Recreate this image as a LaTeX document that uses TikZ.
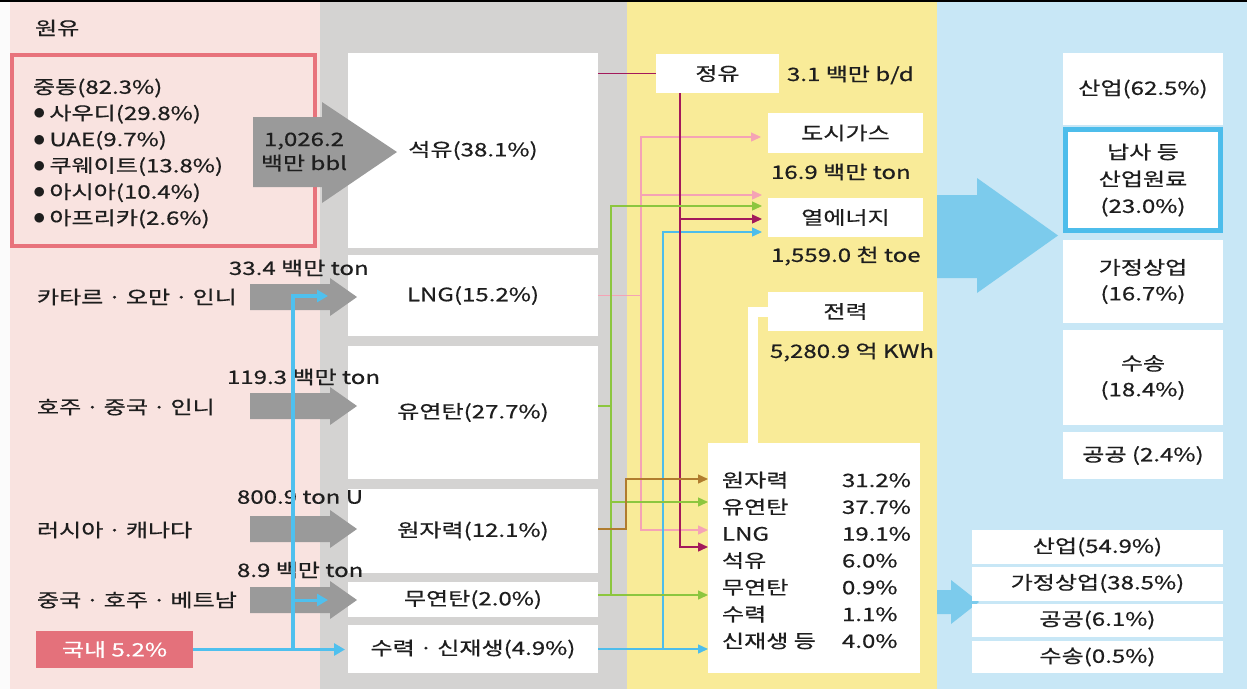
\documentclass[tikz,border=0pt]{standalone}
\usepackage{fontspec}
\setmainfont{Noto Sans CJK KR}[FakeStretch=1.3,FakeBold=0.6]
\usetikzlibrary{arrows.meta}
\definecolor{pinkbg}{HTML}{F9E3E0}
\definecolor{graybg}{HTML}{D4D3D2}
\definecolor{yelbg}{HTML}{F9EB98}
\definecolor{bluebg}{HTML}{C8E7F6}
\definecolor{redC}{HTML}{E8737C}
\definecolor{domC}{HTML}{E4717B}
\definecolor{arrG}{HTML}{9A9A9A}
\definecolor{lineB}{HTML}{4FC0EE}
\definecolor{bigA}{HTML}{7CCBEC}
\definecolor{magC}{HTML}{A3195B}
\definecolor{pnkC}{HTML}{F5A3B5}
\definecolor{grnC}{HTML}{8CC63F}
\definecolor{brnC}{HTML}{B07C2E}
\definecolor{cynC}{HTML}{4DBDEB}
\definecolor{txt}{HTML}{1E1E1E}
\newcommand\bul{{\fontsize{30}{30}\selectfont$\bullet$}\hspace{4pt}}
\newcommand\md{\hspace{4.5pt}·\hspace{4.5pt}}
\newcommand\colA[1]{\makebox[120pt][l]{#1}}
\tikzset{tri/.tip={Triangle[length=10pt,width=9pt]},
  btri/.tip={Triangle[length=11pt,width=12pt]}}
\begin{document}
\begin{tikzpicture}[x=1pt,y=-1pt,
  every node/.style={text=txt, inner sep=0pt, outer sep=0pt},
  fnt/.style={font=\fontsize{18.5}{24}\selectfont},
  wbox/.style={fnt, fill=white, minimum width=250, align=center},
  ybox/.style={fnt, fill=white, minimum width=155, minimum height=39},
  rbox/.style={fill=white, minimum width=160, align=center, font=\fontsize{18.5}{26}\selectfont},
  bbox/.style={fnt, fill=white, minimum width=251},
  lbl/.style={fnt, anchor=west},
  conn/.style={line width=1.4pt},
  mag/.style={conn, draw=magC},
  pnk/.style={conn, draw=pnkC},
  grn/.style={conn, draw=grnC},
  brn/.style={conn, draw=brnC},
  cyn/.style={conn, draw=cynC},
  bthick/.style={draw=lineB, line width=3.6pt}
]
\useasboundingbox (0,0) rectangle (1247,689);
% backgrounds
\fill[white!97!gray] (0,0) rectangle (1247,689);
\fill[pinkbg] (10,2) rectangle (320,689);
\fill[graybg] (320,2) rectangle (627,689);
\fill[yelbg] (627,2) rectangle (937,689);
\fill[bluebg] (937,2) rectangle (1247,689);
\fill[black] (0,0) rectangle (1247,2);

% ---------- crude oil column ----------
\node[lbl] (hdr) at (35,28) {원유};
\node[draw=redC, line width=4pt, minimum width=303, minimum height=191, anchor=north west] (mebox) at (12,55) {};
\node[anchor=west, align=left, font=\fontsize{18.5}{26.2}\selectfont] (me) at (33,153.5)
  {중동(82.3\%)\\\bul 사우디(29.8\%)\\\bul UAE(9.7\%)\\\bul 쿠웨이트(13.8\%)\\\bul 아시아(10.4\%)\\\bul 아프리카(2.6\%)};

% ---------- primary energy boxes ----------
\node[wbox, minimum height=195] (oil) at (473,150.5) {석유(38.1\%)};
\node[wbox, minimum height=81] (lng) at (473,295.5) {LNG(15.2\%)};
\node[wbox, minimum height=133] (coal) at (473,412.5) {유연탄(27.7\%)};
\node[wbox, minimum height=84] (nuc) at (473,531) {원자력(12.1\%)};
\node[wbox, minimum height=35] (anth) at (473,599.5) {무연탄(2.0\%)};
\node[wbox, minimum height=48] (hydro) at (473,649) {수력\md 신재생(4.9\%)};

% gray import arrows
\fill[arrG] (253,117) -- (322,117) -- (322,102) -- (397,152) -- (322,203) -- (322,187) -- (253,187) -- cycle;
\node[fnt, align=center] (crude) at (304,152) {1,026.2\\백만 bbl};
\foreach \yy in {297,406,529,600}
  \fill[arrG] (250,\yy-13) -- (330,\yy-13) -- (330,\yy-19) -- (357,\yy) -- (330,\yy+19) -- (330,\yy+13) -- (250,\yy+13) -- cycle;

\node[lbl] (qa) at (37,297) {카타르\md 오만\md 인니};
\node[lbl] (au) at (37,407) {호주\md 중국\md 인니};
\node[lbl] (ru) at (37,530) {러시아\md 캐나다};
\node[lbl] (cn) at (37,600) {중국\md 호주\md 베트남};
\node[lbl] (qav) at (229,268) {33.4 백만 ton};
\node[lbl] (auv) at (227,377) {119.3 백만 ton};
\node[lbl] (ruv) at (237,497) {800.9 ton U};
\node[lbl] (cnv) at (237,570) {8.9 백만 ton};

% domestic
\node[fnt, fill=domC, text=white, minimum width=157, minimum height=37] (dom) at (114.5,649.5) {국내 5.2\%};
\coordinate (d1) at (293,649.5);
\coordinate (d2) at (293,296);
\coordinate (d3) at (293,600);
\draw[bthick, -btri, shorten >=3pt] (dom.east) -- (hydro.west |- dom.east);
\draw[bthick, -btri] (d1) -- (d2) -- (328,296);
\draw[draw=lineB, line width=3pt, -btri] (d3) -- (328,600);

% ---------- conversion column ----------
\node[ybox, minimum width=123] (refin) at (717.5,73.5) {정유};
\node[lbl] (refv) at (787,75) {3.1 백만 b/d};
\node[ybox, minimum height=40] (gas) at (845.5,133) {도시가스};
\node[lbl] (gasv) at (771,172) {16.9 백만 ton};
\node[ybox] (heat) at (845.5,217.5) {열에너지};
\node[lbl] (heatv) at (771,256) {1,559.0 천 toe};
\node[ybox] (power) at (845.5,311.5) {전력};
\node[lbl] (powv) at (770,352) {5,280.9 억 KWh};
\node[fill=white, minimum width=212, minimum height=230] (mix) at (814,558) {};
\node[anchor=west, align=left, font=\fontsize{18.5}{26.8}\selectfont] (mixt) at (722,560.5)
  {\colA{원자력}31.2\%\\\colA{유연탄}37.7\%\\\colA{LNG}19.1\%\\\colA{석유}6.0\%\\\colA{무연탄}0.9\%\\\colA{수력}1.1\%\\\colA{신재생 등}4.0\%};
\coordinate (wc) at (752.5,311.5);
\draw[white, line width=10pt] (power.west) -- (wc) -- (wc |- mix.north);

% connectors
\coordinate (p1) at (641,137);
\coordinate (p2) at (641,195);
\coordinate (p3) at (641,530);
\draw[pnk] (lng.east) -- (lng.east -| p1);
\draw[pnk, tri-tri, shorten <=7pt] (gas.west |- p1) -- (p1) -- (p3) -- (mix.west |- p3);
\draw[pnk, -tri, shorten >=6pt] (p2) -- (heat.west |- p2);

\coordinate (c1) at (663,649);
\coordinate (c2) at (663,232);
\draw[cyn, -tri] (hydro.east) -- (mix.west |- hydro.east);
\draw[cyn, -tri, shorten >=6pt] (c1) -- (c2) -- (heat.west |- c2);

\coordinate (m1) at (680,219);
\coordinate (m2) at (680,547);
\draw[mag] (oil.east |- refin.west) -- (refin.west);
\draw[mag, -tri] (refin.south -| m2) -- (m2) -- (mix.west |- m2);
\draw[mag, -tri, shorten >=6pt] (m1) -- (heat.west |- m1);

\coordinate (g0) at (611,406);
\coordinate (g1) at (611,206);
\coordinate (g2) at (611,502);
\coordinate (g3) at (611,595);
\draw[grn] (coal.east |- g0) -- (g0);
\draw[grn, -tri, shorten >=6pt] (g3) -- (g1) -- (heat.west |- g1);
\draw[grn, -tri] (g2) -- (mix.west |- g2);
\draw[grn, -tri] (anth.east |- g3) -- (mix.west |- g3);

\coordinate (b1) at (626,529);
\coordinate (b2) at (626,479);
\draw[brn, -tri] (nuc.east |- b1) -- (b1) -- (b2) -- (mix.west |- b2);

% ---------- final consumption column ----------
\fill[bigA] (937,195) -- (977,195) -- (977,178) -- (1058,235.5) -- (977,293) -- (977,278) -- (937,278) -- cycle;
\fill[bigA] (937,590) -- (951,590) -- (951,580) -- (979,602) -- (951,624) -- (951,614) -- (937,614) -- cycle;

\node[rbox, minimum height=72] (ind) at (1143,89) {산업(62.5\%)};
\node[rbox, draw=cynC, line width=5pt, minimum width=155, minimum height=101, font=\fontsize{18.5}{27}\selectfont] (nap) at (1143,180) {납사 등\\산업원료\\(23.0\%)};
\node[rbox, minimum height=83] (home) at (1143,281.5) {가정상업\\(16.7\%)};
\node[rbox, minimum height=95] (trans) at (1143,377.5) {수송\\(18.4\%)};
\node[rbox, minimum height=47] (pub) at (1143,455.5) {공공 (2.4\%)};

\node[bbox, minimum height=34] (eind) at (1097.5,547) {산업(54.9\%)};
\node[bbox, minimum height=34] (ehome) at (1097.5,583.5) {가정상업(38.5\%)};
\node[bbox, minimum height=33] (epub) at (1097.5,620) {공공(6.1\%)};
\node[bbox, minimum height=32] (etrans) at (1097.5,657) {수송(0.5\%)};
\end{tikzpicture}
\end{document}
